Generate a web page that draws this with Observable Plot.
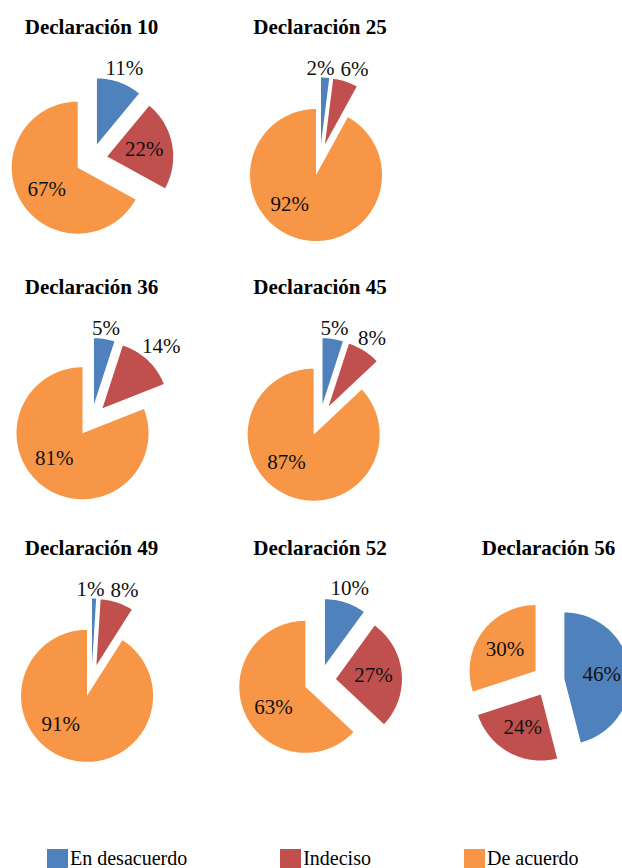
<!DOCTYPE html>
<html>
<head>
<meta charset="utf-8">
<script src="https://cdn.jsdelivr.net/npm/d3@7"></script>
<script src="https://cdn.jsdelivr.net/npm/@observablehq/plot@0.6"></script>
<style>
  html, body { margin: 0; padding: 0; background: #fff; overflow: hidden; }
  #chart svg { display: block; }
  .legend { display: flex; align-items: flex-start; margin: 4px 0 0 47px; gap: 93px;
            font-family: "Liberation Serif", serif; font-size: 20px; color: #000; }
  .legend .item { display: flex; align-items: flex-start; gap: 2px; white-space: nowrap; }
  .legend .sw { width: 21px; height: 21px; display: inline-block; }
  .legend .lbl { line-height: 18px; }
</style>
</head>
<body>
<div id="chart"></div>
<div class="legend" id="legend"></div>
<script>
// ---- data ----
const declarations = ["Declaración 10", "Declaración 25", "Declaración 36", "Declaración 45", "Declaración 49", "Declaración 52", "Declaración 56"];
const categories = ["En desacuerdo", "Indeciso", "De acuerdo"];
const enDesacuerdo = [11, 2, 5, 5, 1, 10, 46];
const indeciso = [22, 6, 14, 8, 8, 27, 24];
const deAcuerdo = [67, 92, 81, 87, 91, 63, 30];
const colors = ["#4F81BD", "#C0504D", "#F79646"];

// ---- layout ----
const W = 622, H = 845;
const piesPerRow = [2, 2, 3];
const colX0 = 91, colStep = 228.5, rowY0 = 159, rowStep = 260.5;
const R = 66, EXPLODE = 16, TITLE_GAP = 126;
const FONT = "Liberation Serif";
const LABEL_SIZE = 21;

const rad = a => a * Math.PI / 180;
const dir = a => [Math.sin(rad(a)), -Math.cos(rad(a))];
const textW = s => (s.length - 1) * 0.5 * LABEL_SIZE + 0.833 * LABEL_SIZE;

const wedgePts = [], labels = [], titles = [];
let idx = 0;
piesPerRow.forEach((n, row) => {
  for (let col = 0; col < n; col++, idx++) {
    const cx = colX0 + col * colStep, cy = rowY0 + row * rowStep;
    titles.push({x: cx, y: cy - TITLE_GAP, text: declarations[idx]});
    const vals = [enDesacuerdo[idx], indeciso[idx], deAcuerdo[idx]];
    const total = d3.sum(vals);
    let acc = 0;
    const outside = [];
    vals.forEach((v, k) => {
      const a0 = acc / total * 360, a1 = (acc + v) / total * 360;
      acc += v;
      const mid = (a0 + a1) / 2;
      const [ux, uy] = dir(mid);
      const ax = cx + EXPLODE * ux, ay = cy + EXPLODE * uy;
      const key = idx + "-" + k;
      wedgePts.push({key, cat: categories[k], x: ax, y: ay});
      const steps = Math.max(2, Math.ceil(a1 - a0));
      for (let s = 0; s <= steps; s++) {
        const a = a0 + (a1 - a0) * s / steps;
        const [dx, dy] = dir(a);
        wedgePts.push({key, cat: categories[k], x: ax + R * dx, y: ay + R * dy});
      }
      const frac = v / total;
      const text = v + "%";
      const w = textW(text);
      let lab;
      if (frac < 0.15) {
        const hw = w / 2, hh = 9;
        const dist = EXPLODE + R + Math.abs(ux) * hw + Math.abs(uy) * hh;
        lab = {x: cx + dist * ux, y: cy + dist * uy, text, w};
        outside.push(lab);
      } else {
        const ang = frac > 0.5 ? 0.5 * mid + 117 : mid;
        const [vx, vy] = dir(ang);
        const dist = EXPLODE + 0.57 * R;
        lab = {x: cx + dist * vx, y: cy + dist * vy, text, w};
      }
      labels.push(lab);
    });
    // separate overlapping outside labels of the same pie
    outside.sort((a, b) => a.x - b.x);
    for (let i = 1; i < outside.length; i++) {
      const a = outside[i - 1], b = outside[i];
      const need = (a.w + b.w) / 2 + 6;
      if (Math.abs(a.y - b.y) < 18 && b.x - a.x < need) {
        const push = (need - (b.x - a.x)) / 2;
        a.x -= push; b.x += push;
      }
    }
  }
});

const plot = Plot.plot({
  width: W, height: H, margin: 0,
  x: {domain: [0, W], range: [0, W], axis: null},
  y: {domain: [0, H], range: [0, H], axis: null},
  color: {domain: categories, range: colors},
  style: {background: "#fff", fontFamily: "Liberation Serif, serif"},
  marks: [
    Plot.line(wedgePts, {x: "x", y: "y", z: "key", fill: "cat", stroke: "none", curve: "linear-closed"}),
    Plot.text(labels, {x: "x", y: "y", text: "text", fontSize: LABEL_SIZE, fontFamily: FONT, fill: "#111"}),
    Plot.text(titles, {x: "x", y: "y", text: "text", fontSize: 21, fontWeight: "bold", fontFamily: FONT, fill: "#000", lineAnchor: "bottom"})
  ]
});
document.getElementById("chart").appendChild(plot);

const legend = document.getElementById("legend");
categories.forEach((c, i) => {
  const item = document.createElement("div");
  item.className = "item";
  const sw = document.createElement("span");
  sw.className = "sw";
  sw.style.background = colors[i];
  const t = document.createElement("span");
  t.className = "lbl";
  t.textContent = c;
  item.appendChild(sw); item.appendChild(t);
  legend.appendChild(item);
});
</script>
</body>
</html>
